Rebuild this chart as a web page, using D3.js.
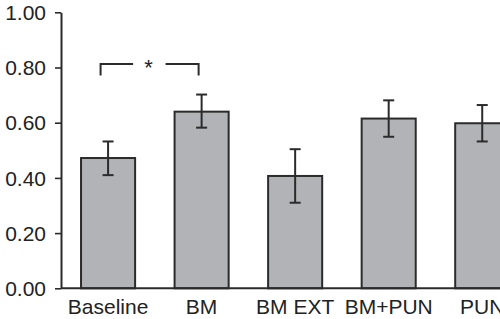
<!DOCTYPE html>
<html>
<head>
<meta charset="utf-8">
<script src="https://cdn.jsdelivr.net/npm/d3@7"></script>
<style>
  html, body { margin: 0; padding: 0; background: #fff; }
  svg { display: block; }
  text { font-family: "Liberation Sans", Arial, Helvetica, sans-serif; fill: #222; }
</style>
</head>
<body>
<svg id="chart" width="500" height="319"></svg>
<script>
const categories = ["Baseline", "BM", "BM EXT", "BM+PUN", "PUN"];
const means = [0.472, 0.640, 0.407, 0.615, 0.598];
const errUp = [0.060, 0.062, 0.097, 0.066, 0.066];
const errDown = [0.062, 0.058, 0.097, 0.066, 0.066];
const yTicks = [0, 0.2, 0.4, 0.6, 0.8, 1.0];
const sigPair = ["Baseline", "BM"];
const sigLabel = "*";

const svg = d3.select("#chart");
const axisX = 61, y0 = 288.3, y1 = 12.3;
const sx = 1.05, fs = 20;

const x = d3.scaleBand().domain(categories)
  .range([axisX + 0.4, axisX + 0.4 + 467.5])
  .paddingInner(0.422).paddingOuter(0.21);
const y = d3.scaleLinear().domain([0, 1]).range([y0, y1]);

const data = categories.map((c, i) => ({c, m: means[i], up: errUp[i], dn: errDown[i]}));

// bars
svg.append("g").selectAll("rect").data(data).join("rect")
  .attr("x", d => x(d.c))
  .attr("y", d => y(d.m))
  .attr("width", x.bandwidth())
  .attr("height", d => y(0) - y(d.m))
  .attr("fill", "#b2b3b6")
  .attr("stroke", "#2b2b2b")
  .attr("stroke-width", 2);

// error bars
const eb = svg.append("g").attr("stroke", "#2b2b2b").attr("stroke-width", 2);
data.forEach(d => {
  const cx = x(d.c) + x.bandwidth() / 2;
  eb.append("line").attr("x1", cx).attr("x2", cx).attr("y1", y(d.m + d.up)).attr("y2", y(d.m - d.dn));
  eb.append("line").attr("x1", cx - 5.5).attr("x2", cx + 5.5).attr("y1", y(d.m + d.up)).attr("y2", y(d.m + d.up));
  eb.append("line").attr("x1", cx - 5.5).attr("x2", cx + 5.5).attr("y1", y(d.m - d.dn)).attr("y2", y(d.m - d.dn));
});

// y axis
const yAxis = svg.append("g").attr("transform", `translate(${axisX},0)`)
  .call(d3.axisLeft(y).tickValues(yTicks).tickFormat(d3.format(".2f")).tickSize(6).tickPadding(9).tickSizeOuter(0));
yAxis.select(".domain").attr("stroke", "#2b2b2b").attr("stroke-width", 2);
yAxis.selectAll(".tick line").attr("stroke", "#2b2b2b").attr("stroke-width", 1.6);
yAxis.selectAll(".tick text")
  .attr("font-size", fs)
  .attr("x", -15 / sx).attr("dy", "0.36em")
  .attr("transform", `scale(${sx},1)`);

// x axis
const xAxis = svg.append("g").attr("transform", `translate(0,${y0})`)
  .call(d3.axisBottom(x).tickSize(0).tickPadding(0).tickSizeOuter(0));
xAxis.select(".domain").attr("stroke", "#2b2b2b").attr("stroke-width", 2)
  .attr("d", `M${axisX},0H500`);
xAxis.selectAll(".tick text")
  .attr("font-size", fs)
  .attr("y", 26).attr("dy", 0)
  .attr("transform", `scale(${sx},1)`)
  .attr("x", 0);
xAxis.selectAll(".tick").each(function(d) {
  const cx = x(d) + x.bandwidth() / 2;
  d3.select(this).attr("transform", `translate(${cx},0)`);
});

// significance bracket
const c1 = x(sigPair[0]) + x.bandwidth() / 2 - 7.5;
const c2 = x(sigPair[1]) + x.bandwidth() / 2 - 3;
const yTop = y(0.813), yLeg = y(0.771);
const mid = (c1 + c2) / 2;
const br = svg.append("g").attr("stroke", "#2b2b2b").attr("stroke-width", 2).attr("fill", "none");
br.append("path").attr("d", `M${c1},${yLeg}V${yTop}H${mid - 16.5}`);
br.append("path").attr("d", `M${mid + 16},${yTop}H${c2}V${yLeg}`);
svg.append("text").attr("x", mid - 1).attr("y", yTop + 11.5)
  .attr("text-anchor", "middle").attr("font-size", 22).text(sigLabel);
</script>
</body>
</html>
